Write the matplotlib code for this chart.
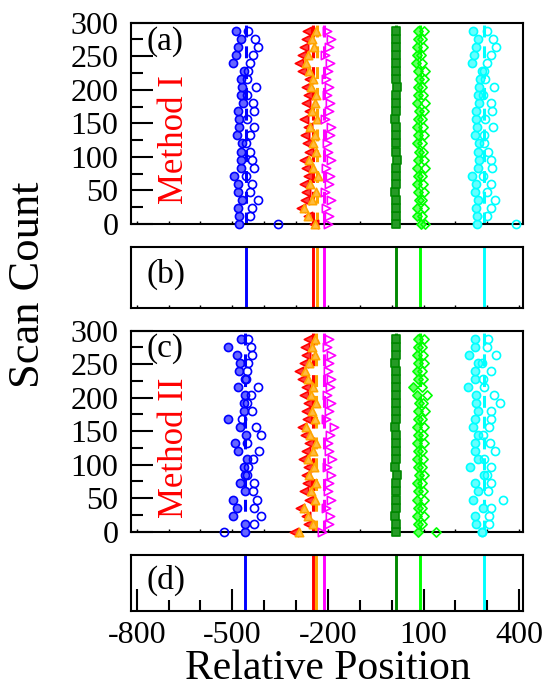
import matplotlib.pyplot as plt
import numpy as np
from matplotlib.colors import to_rgb

plt.rcParams['font.family'] = ['Liberation Serif', 'DejaVu Serif']
plt.rcParams['axes.unicode_minus'] = False

# scan rows (bottom -> top)
SCAN = list(range(0, 300, 12))

# ---- Method I : marker positions per scan row ----
BLUE_S_1 = [-479, -479, -483, -471, -483, -481, -494, -473, -473, -473, -471, -486, -479,
            -479, -481, -466, -473, -469, -473, -462, -497, -490, -481, -473, -490]
BLUE_H_1 = [-358, -445, -437, -421, -445, -437, -458, -431, -439, -445, -458, -445, -431,
            -455, -431, -434, -455, -427, -455, -450, -445, -434, -421, -429, -450]
RED_1 = [-245, -262, -285, -272, -268, -276, -262, -270, -275, -258, -266, -272, -262,
         -276, -258, -268, -262, -270, -258, -280, -292, -283, -276, -270, -265]
ORANGE_1 = [-240, -262, -274, -250, -238, -255, -232, -246, -258, -236, -248, -240, -256,
            -234, -250, -242, -238, -252, -246, -258, -270, -262, -244, -250, -236]
MAGENTA_1 = [-200, -196, -205, -190, -210, -198, -194, -206, -192, -200, -204, -195, -190,
             -208, -198, -193, -202, -196, -206, -200, -194, -210, -197, -192, -204]
DGREEN_1 = [14, 12, 15, 13, 11, 15, 14, 12, 16, 13, 12, 14, 15, 11, 13, 14, 12, 16, 13,
            14, 12, 15, 13, 14, 12]
LGREEN_S_1 = [93, 80, 78, 86, 82, 80, 84, 78, 82, 86, 80, 84, 79, 82, 86, 80, 84, 82, 87,
              82, 76, 80, 78, 84, 82]
LGREEN_H_1 = [104, 96, 100, 94, 102, 98, 96, 104, 100, 98, 95, 102, 98, 96, 100, 104, 98,
              96, 101, 106, 96, 92, 98, 96, 100]
CYAN_S_1 = [268, 268, 264, 272, 261, 264, 252, 272, 275, 272, 275, 260, 268, 266, 264, 275,
            272, 275, 277, 282, 251, 258, 264, 272, 256]
CYAN_H_1 = [390, 298, 310, 324, 298, 310, 287, 316, 310, 303, 289, 289, 319, 292, 316, 313,
            287, 321, 292, 289, 298, 313, 327, 319, 298]

# ---- Method II ----
BLUE_S_2 = [-460, -460, -497, -484, -497, -460, -476, -460, -465, -455, -483, -492, -457,
            -476, -515, -465, -465, -460, -481, -460, -478, -476, -484, -513, -474]
BLUE_H_2 = [-526, -432, -410, -432, -422, -434, -432, -455, -450, -436, -416, -453, -410,
            -426, -471, -439, -453, -441, -420, -457, -455, -450, -439, -442, -450]
RED_2 = [-308, -262, -270, -288, -258, -275, -266, -270, -262, -278, -268, -260, -272,
         -282, -265, -270, -262, -274, -268, -280, -290, -276, -268, -272, -262]
ORANGE_2 = [-290, -248, -262, -276, -240, -252, -236, -258, -244, -262, -246, -238, -256,
            -268, -242, -250, -236, -254, -248, -262, -272, -258, -242, -250, -240]
MAGENTA_2 = [-220, -198, -194, -206, -190, -200, -196, -192, -204, -188, -198, -200, -194,
             -182, -206, -196, -190, -202, -195, -192, -200, -196, -192, -204, -198]
DGREEN_2 = [12, 14, 11, 15, 13, 12, 14, 16, 10, 13, 15, 12, 14, 11, 13, 15, 12, 14, 13,
            12, 15, 11, 14, 13, 12]
LGREEN_S_2 = [84, 82, 80, 84, 78, 82, 80, 86, 82, 80, 84, 78, 82, 80, 84, 82, 86, 78, 68,
              82, 80, 82, 80, 84, 82]
LGREEN_H_2 = [139, 96, 100, 94, 102, 98, 96, 100, 96, 98, 95, 102, 98, 100, 96, 104, 98,
              110, 94, 98, 96, 100, 98, 96, 100]
CYAN_S_2 = [282, 266, 261, 287, 256, 272, 261, 289, 245, 272, 261, 261, 272, 256, 261, 272,
            266, 266, 240, 261, 261, 272, 243, 261, 261]
CYAN_H_2 = [282, 306, 306, 313, 348, 303, 310, 298, 310, 289, 324, 308, 287, 306, 310, 310,
            340, 321, 289, 287, 313, 282, 327, 298, 303]

# mean positions (order: blue, red, orange, magenta, dark green, light green, cyan)
CENTERS_1 = [-457, -246, -234, -212, 13, 88, 290]
CENTERS_2 = [-460, -247, -236, -213, 12, 88, 290]
LINE_COLORS = ['#0000ff', '#ff0000', '#ffa500', '#ff00ff', '#008800', '#00ff00', '#00ffff']

X_MAJOR = [-800, -500, -200, 100, 400]
Y_MAJOR = [0, 50, 100, 150, 200, 250, 300]


def tint(c, f=0.55):
    r, g, b = to_rgb(c)
    return (1 - f + f * r, 1 - f + f * g, 1 - f + f * b)


def style_x(ax, long_ticks=False):
    ax.set_xlim(-818, 412)
    ax.set_xticks(X_MAJOR)
    ax.set_xticks(np.arange(-800, 401, 100), minor=True)
    for s in ax.spines.values():
        s.set_linewidth(1.5)
    if long_ticks:
        ax.tick_params(axis='x', which='major', direction='in', length=15.5, width=1.5,
                       labelsize=23, pad=7, top=False)
        ax.tick_params(axis='x', which='minor', direction='in', length=8, width=1.5, top=False)
    else:
        ax.tick_params(axis='x', which='both', direction='in', length=2.5, width=1,
                       labelbottom=False, top=False)


def scatter_panel(ax, centers, groups, label, method):
    for xc, col in zip(centers, LINE_COLORS):
        ax.plot([xc, xc], [0, 300], color=col, lw=2.2, ls=(0, (3.9, 2.9)), zorder=2)
    for xs, col, mk, shade, sz in groups:
        face = tint(col, shade) if shade else 'none'
        ax.scatter(xs, SCAN, s=sz, marker=mk, facecolors=[face], edgecolors=col,
                   linewidths=1.2, zorder=3, clip_on=False)
    ax.set_ylim(0, 300)
    ax.set_yticks(Y_MAJOR)
    ax.set_yticks(np.arange(0, 301, 25), minor=True)
    ax.tick_params(axis='y', which='major', direction='in', length=15.5, width=1.5,
                   labelsize=23, pad=9, right=False)
    ax.tick_params(axis='y', which='minor', direction='in', length=8.5, width=1.5, right=False)
    style_x(ax)
    ax.text(0.04, 0.985, label, transform=ax.transAxes, fontsize=24, ha='left', va='top')
    ax.text(0.112, 0.42, method, transform=ax.transAxes, fontsize=25, color='red',
            rotation=90, ha='center', va='center')


def line_panel(ax, centers, label, long_ticks):
    for xc, col in zip(centers, LINE_COLORS):
        ax.axvline(xc, color=col, lw=2.1)
    ax.set_ylim(0, 1)
    ax.set_yticks([])
    style_x(ax, long_ticks)
    ax.text(0.04, 0.55, label, transform=ax.transAxes, fontsize=24, ha='left', va='center')


fig = plt.figure(figsize=(5.58, 6.96), dpi=100, facecolor='white')
ax_a = fig.add_axes([0.2348, 0.6782, 0.7025, 0.2892])
ax_b = fig.add_axes([0.2348, 0.5579, 0.7025, 0.0871])
ax_c = fig.add_axes([0.2348, 0.2361, 0.7025, 0.2888])
ax_d = fig.add_axes([0.2348, 0.1221, 0.7025, 0.0805])

groups_1 = [
    (BLUE_S_1, '#0000ff', 'o', 0.6, 34), (BLUE_H_1, '#0000ff', 'o', 0, 34),
    (RED_1, '#ff0000', '<', 0.75, 36), (ORANGE_1, '#ffa500', '^', 0.75, 36),
    (MAGENTA_1, '#ff00ff', '>', 0, 36), (DGREEN_1, '#008800', 's', 0.85, 30),
    (LGREEN_S_1, '#00ff00', 'D', 0.6, 22), (LGREEN_H_1, '#00ff00', 'D', 0, 22),
    (CYAN_S_1, '#00ffff', 'o', 0.6, 34), (CYAN_H_1, '#00ffff', 'o', 0, 34),
]
groups_2 = [
    (BLUE_S_2, '#0000ff', 'o', 0.6, 34), (BLUE_H_2, '#0000ff', 'o', 0, 34),
    (RED_2, '#ff0000', '<', 0.75, 36), (ORANGE_2, '#ffa500', '^', 0.75, 36),
    (MAGENTA_2, '#ff00ff', '>', 0, 36), (DGREEN_2, '#008800', 's', 0.85, 30),
    (LGREEN_S_2, '#00ff00', 'D', 0.6, 22), (LGREEN_H_2, '#00ff00', 'D', 0, 22),
    (CYAN_S_2, '#00ffff', 'o', 0.6, 34), (CYAN_H_2, '#00ffff', 'o', 0, 34),
]

scatter_panel(ax_a, CENTERS_1, groups_1, '(a)', 'Method I')
line_panel(ax_b, CENTERS_1, '(b)', False)
scatter_panel(ax_c, CENTERS_2, groups_2, '(c)', 'Method II')
line_panel(ax_d, CENTERS_2, '(d)', True)

fig.text(0.05, 1 - 285 / 696, 'Scan Count', fontsize=32, rotation=90, ha='center', va='center')
fig.text(0.587, 0.024, 'Relative Position', fontsize=30, ha='center', va='baseline')

fig.savefig('out.png', dpi=100, facecolor='white')
